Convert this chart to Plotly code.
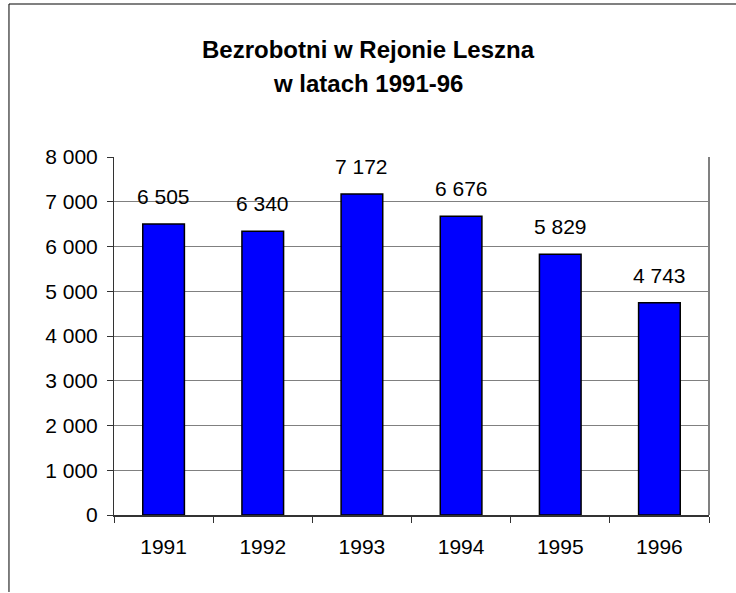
"""Bezrobotni w Rejonie Leszna - wykres słupkowy."""

import plotly.graph_objects as go

years = ["1991", "1992", "1993", "1994", "1995", "1996"]
unemployed = [6505, 6340, 7172, 6676, 5829, 4743]
title_lines = ["Bezrobotni w Rejonie Leszna", "w latach 1991-96"]

FONT = "Liberation Sans, Arial, sans-serif"

fig = go.Figure()

fig.add_trace(
    go.Bar(
        x=years,
        y=unemployed,
        marker=dict(color="#0000ff", line=dict(color="#000000", width=1.5)),
        hoverinfo="x+y",
        showlegend=False,
    )
)

# etykiety nad słupkami (x jako indeks kategorii)
for i, val in enumerate(unemployed):
    fig.add_annotation(
        x=i,
        y=val,
        text=f"{val:,}".replace(",", " "),
        showarrow=False,
        yanchor="bottom",
        yshift=14,
        font=dict(family=FONT, size=21, color="#000000"),
    )

# tytuł w dwóch liniach
for i, line in enumerate(title_lines):
    fig.add_annotation(
        x=0.4269,
        y=1.299 - i * 0.093,
        xref="paper",
        yref="paper",
        text=f"<b>{line}</b>",
        showarrow=False,
        yanchor="middle",
        font=dict(family=FONT, size=24, color="#000000"),
    )

# ramka wykresu (lewa i górna krawędź)
fig.add_shape(type="line", xref="paper", yref="paper",
              x0=-0.1765, x1=1.06, y0=1.4274, y1=1.4274,
              line=dict(color="#808080", width=2))
fig.add_shape(type="line", xref="paper", yref="paper",
              x0=-0.1765, x1=-0.1765, y0=1.4274, y1=-0.215,
              line=dict(color="#000000", width=1))
# prawa krawędź obszaru wykresu
fig.add_shape(type="line", xref="paper", yref="paper",
              x0=1, x1=1, y0=0, y1=1,
              line=dict(color="#808080", width=2))

fig.update_layout(
    width=736,
    height=593,
    margin=dict(l=114, r=27, t=157, b=78),
    plot_bgcolor="white",
    paper_bgcolor="white",
    bargap=0.58,
    separators=", ",
    font=dict(family=FONT, size=21, color="#000000"),
    xaxis=dict(
        type="category",
        range=[-0.5, len(years) - 0.5],
        showgrid=False,
        showline=True,
        linecolor="#333333",
        linewidth=2,
        ticks="outside",
        tickson="boundaries",
        ticklen=6,
        tickcolor="#333333",
        ticklabelstandoff=12,
        tickangle=0,
        tickfont=dict(family=FONT, size=21),
    ),
    yaxis=dict(
        range=[0, 8000],
        dtick=1000,
        tickformat=",d",
        showgrid=True,
        gridcolor="#808080",
        gridwidth=1,
        showline=True,
        linecolor="#333333",
        linewidth=1,
        ticks="outside",
        ticklen=6,
        tickcolor="#333333",
        ticklabelstandoff=5,
        zeroline=False,
        tickfont=dict(family=FONT, size=21),
    ),
)

fig.write_html(
    "out.html",
    config={"displayModeBar": False},
    post_script="document.body.style.margin='0';",
)
